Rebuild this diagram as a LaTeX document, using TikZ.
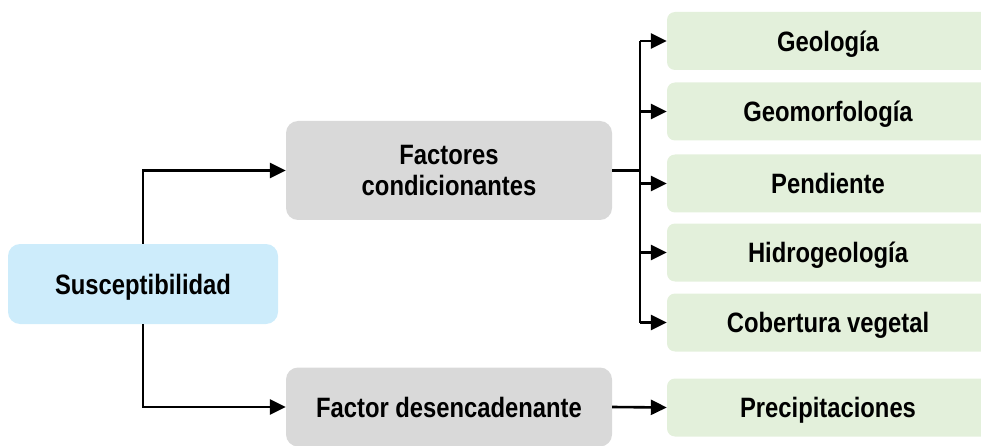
\documentclass[tikz,border=0pt]{standalone}
\usepackage{fontspec}
\setmainfont{Liberation Sans}[FakeStretch=0.85]
\usetikzlibrary{arrows.meta}
\definecolor{susblue}{RGB}{205,236,251}
\definecolor{factgray}{RGB}{217,217,217}
\definecolor{varigreen}{RGB}{227,240,219}
\tikzset{
  boxtext/.style={font=\fontsize{28}{31}\selectfont\bfseries, align=center, inner sep=0pt},
  oneline/.style={text height=24pt, text depth=3.5pt},
  susbox/.style={boxtext, oneline, fill=susblue, rounded corners=12pt, minimum width=270pt, minimum height=80pt},
  factbox/.style={boxtext, fill=factgray, rounded corners=12pt, minimum width=326pt},
  varbox/.style={boxtext, oneline, fill=varigreen, rounded corners=8pt, minimum width=322pt, minimum height=58pt},
  wire/.style={line width=2.6pt},
  link/.style={wire, -{Triangle[length=16pt,width=15pt]}}
}
\begin{document}
\begin{tikzpicture}[x=1pt,y=-1pt]
\useasboundingbox (0,0) rectangle (981,446);
% Main node
\node[susbox] (sus) at (143,284) {Susceptibilidad};
% Factors
\node[factbox, minimum height=99pt] (cond) at (449,170.5) {Factores\\condicionantes};
\node[factbox, oneline, minimum height=79pt] (desen) at (449,407) {Factor desencadenante};
% Variables
\node[varbox] (geo) at (828,41) {Geología};
\node[varbox] (geom) at (828,111.5) {Geomorfología};
\node[varbox] (pend) at (828,183.5) {Pendiente};
\node[varbox] (hidro) at (828,252.5) {Hidrogeología};
\node[varbox] (cob) at (828,322.5) {Cobertura vegetal};
\node[varbox] (prec) at (828,407.5) {Precipitaciones};
%
% Connectors
\draw[link] (sus.north) |- (cond.west);
\draw[link] (sus.south) |- (desen.west);
\coordinate (bus) at (640,170.5);
\draw[wire] (cond.east) -- (bus);
\draw[wire] (bus |- geo.west) -- (bus |- cob.west);
\foreach \v in {geo,geom,pend,hidro,cob}
  \draw[link] (bus |- \v.west) -- (\v.west);
\draw[link] (desen.east) -- (prec.west);
\end{tikzpicture}
\end{document}
